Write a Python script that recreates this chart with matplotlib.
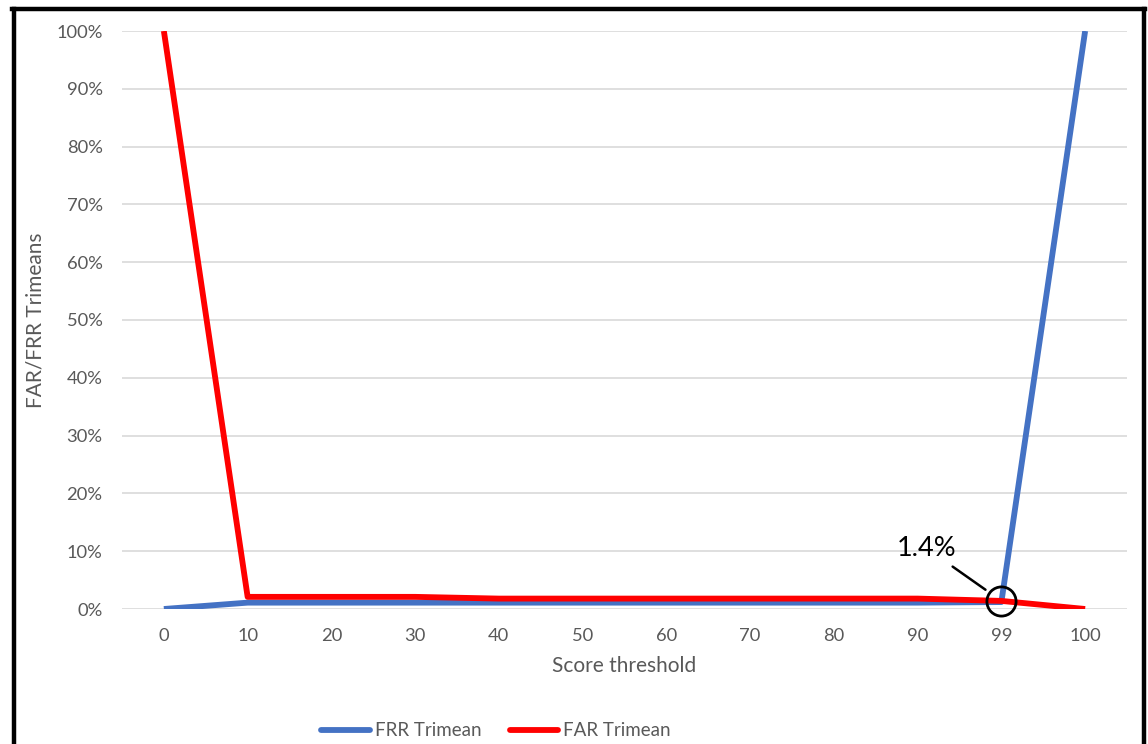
import matplotlib
matplotlib.use("Agg")
import matplotlib.pyplot as plt
from matplotlib.lines import Line2D
from matplotlib.ticker import FuncFormatter

# Score thresholds (categorical axis) and trimean error rates in percent
thresholds = ["0", "10", "20", "30", "40", "50", "60", "70", "80", "90", "99", "100"]
frr_trimean = [0.0, 1.1, 1.1, 1.1, 1.1, 1.1, 1.1, 1.1, 1.1, 1.1, 1.2, 100.0]
far_trimean = [100.0, 2.1, 2.1, 2.1, 1.8, 1.8, 1.8, 1.8, 1.8, 1.8, 1.4, 0.0]
eer_label = "1.4%"
eer_index = 10
eer_value = 1.4

plt.rcParams["font.family"] = ["Lato", "DejaVu Sans"]
text_grey = "#595959"

fig = plt.figure(figsize=(11.48, 7.44), dpi=100)
ax = fig.add_axes([122 / 1148, 135 / 744, 1005 / 1148, 578 / 744])

x = list(range(len(thresholds)))
ax.plot(x, frr_trimean, color="#4472C4", lw=4.2, solid_capstyle="butt",
        label="FRR Trimean", zorder=3)
ax.plot(x, far_trimean, color="#FF0000", lw=4.2, solid_capstyle="butt",
        label="FAR Trimean", zorder=4)

ax.set_xlim(-0.5, len(thresholds) - 0.5)
ax.set_ylim(0, 100)
ax.set_yticks(range(0, 101, 10))
ax.yaxis.set_major_formatter(FuncFormatter(lambda v, p: f"{int(v)}%"))
ax.set_xticks(x)
ax.set_xticklabels(thresholds)
ax.tick_params(axis="both", length=0, labelsize=13.2, labelcolor=text_grey)
ax.tick_params(axis="y", pad=14)
ax.tick_params(axis="x", pad=14)
ax.grid(axis="y", color="#D9D9D9", lw=1.2)
ax.set_axisbelow(True)
for s in ax.spines.values():
    s.set_visible(False)

ax.set_xlabel("Score threshold", fontsize=15, color=text_grey, labelpad=8)
ax.set_ylabel("FAR/FRR Trimeans", fontsize=15, color=text_grey, labelpad=8)

# Circle marking the crossing point and its label
ax.plot([eer_index], [eer_value], marker="o", ms=21, mfc="none", mec="black",
        mew=2.0, zorder=6, clip_on=False)
ax.annotate(eer_label, xy=(eer_index, eer_value), xytext=(-54, 38),
            textcoords="offset points", ha="center", va="center",
            fontsize=19.5, color="black",
            arrowprops=dict(arrowstyle="-", color="black", lw=1.8,
                            shrinkA=4, shrinkB=14))

leg = fig.legend(handles=[Line2D([], [], color="#4472C4", lw=4.2, solid_capstyle="round"),
                          Line2D([], [], color="#FF0000", lw=4.2, solid_capstyle="round")],
                 labels=["FRR Trimean", "FAR Trimean"],
                 loc="center", bbox_to_anchor=(496 / 1148, 1 - 731 / 744),
                 ncol=2, frameon=False, fontsize=13.5, handlelength=2.6,
                 columnspacing=1.5, handletextpad=0.25)
for t in leg.get_texts():
    t.set_color(text_grey)

# Outer frame: left, top and right edges
fw = 3.2
fig.add_artist(Line2D([13.5 / 1148, 13.5 / 1148], [0, 1 - 8.5 / 744],
                      color="black", lw=fw, transform=fig.transFigure))
fig.add_artist(Line2D([1143.5 / 1148, 1143.5 / 1148], [0, 1 - 8.5 / 744],
                      color="black", lw=fw, transform=fig.transFigure))
fig.add_artist(Line2D([12 / 1148, 1145 / 1148], [1 - 8.5 / 744, 1 - 8.5 / 744],
                      color="black", lw=fw, transform=fig.transFigure))

fig.savefig("out.png", dpi=100)
